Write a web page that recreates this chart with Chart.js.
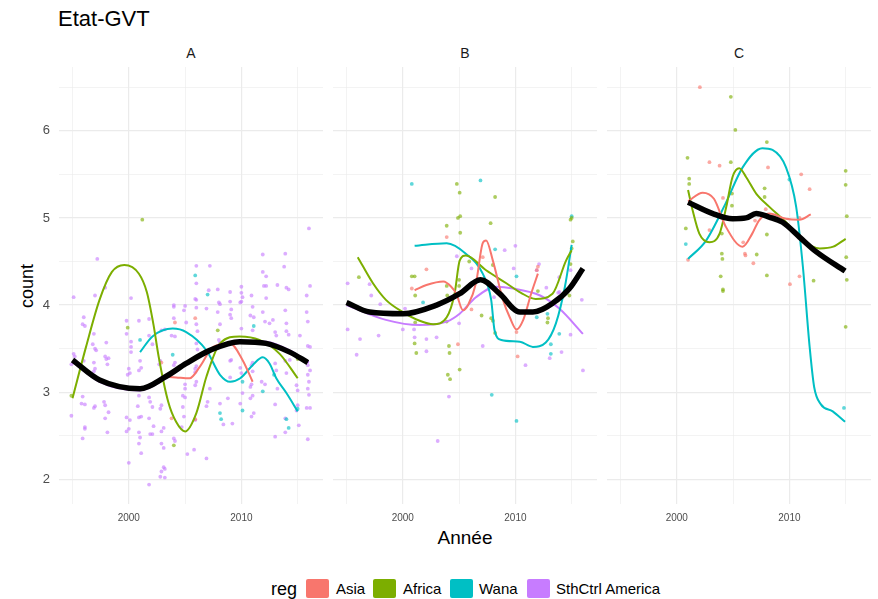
<!DOCTYPE html>
<html>
<head>
<meta charset="utf-8">
<script src="https://cdn.jsdelivr.net/npm/chart.js@4.4.1/dist/chart.umd.min.js"></script>
<style>
  body { margin: 0; width: 878px; height: 599px; background: #fff; overflow: hidden; position: relative;
         font-family: "Liberation Sans", Arial, sans-serif; }
  .t { position: absolute; white-space: nowrap; line-height: 1; }
  canvas { position: absolute; }
  .key { position: absolute; width: 23px; height: 19px; top: 579px; border-radius: 2px; }
</style>
</head>
<body>
<div class="t" style="left:58px;top:7.5px;font-size:22px;color:#000">Etat-GVT</div>
<div class="t" style="left:191px;top:46px;font-size:14px;color:#1a1a1a;transform:translateX(-50%)">A</div>
<div class="t" style="left:465px;top:46px;font-size:14px;color:#1a1a1a;transform:translateX(-50%)">B</div>
<div class="t" style="left:739px;top:46px;font-size:14px;color:#1a1a1a;transform:translateX(-50%)">C</div>
<div class="t" style="left:27px;top:285.5px;font-size:18px;color:#000;transform:translate(-50%,-50%) rotate(-90deg)">count</div>
<div class="t" style="left:465px;top:528px;font-size:19px;color:#000;transform:translateX(-50%)">Année</div>

<canvas id="cA" width="333" height="487" style="left:0;top:47px"></canvas>
<canvas id="cB" width="284" height="487" style="left:323px;top:47px"></canvas>
<canvas id="cC" width="284" height="487" style="left:597px;top:47px"></canvas>

<div id="legend"></div>

<script>
// facets and groups
const panels = ['A', 'B', 'C'];
const regions = ['Asia', 'Africa', 'Wana', 'SthCtrl America'];
const regionColors = ['#F8766D', '#7CAE00', '#00BFC4', '#C77CFF'];
const xLabels = [2000, 2010];
const xGrid = [1995, 2000, 2005, 2010, 2015];
const yLabels = [2, 3, 4, 5, 6];
const yGrid = [2, 2.5, 3, 3.5, 4, 4.5, 5, 5.5, 6, 6.5];

// ---- panel A : points [year, count] ----
const A_asia_pts = [[2004.1,3.80],[2005.9,3.85],[2002.9,3.34],[2003.8,2.70],[2005.9,2.69]];
const A_africa_pts = [[1999.9,3.74],[2001.2,4.98],[2007.9,3.71],[2004.0,2.39],[1994.9,2.96],[2015.0,3.38]];
const A_wana_pts = [[2005.9,4.34],[2007.0,4.12],[2001.0,3.60],[2003.9,3.43],[2011.1,3.76],[2008.1,2.76],[2008.2,2.69],
  [2010.1,3.12],[2010.1,2.79],[2011.9,3.01],[2012.9,3.20],[2014.0,2.69],[2014.2,2.59],[2015.0,2.81]];
const A_sth_pts = [
  [1997.2,4.53],[1997.9,4.20],[1995.1,4.09],[1997.0,4.11],[2000.2,4.08],[1996.0,3.86],[1995.9,3.78],[1996.1,3.76],
  [1996.9,3.67],[1996.8,3.55],[1997.0,3.50],[1997.1,3.48],[1998.0,3.57],[1999.8,3.82],[2000.9,3.82],[1999.8,3.67],
  [2000.2,3.58],[2000.2,3.52],[2000.2,3.46],[2001.8,3.84],[2001.8,3.65],[2002.1,3.55],[2002.9,3.71],[2003.2,3.72],
  [2004.0,4.00],[2004.0,3.98],[2005.0,3.99],[2004.9,3.94],[2004.0,3.85],[2005.1,3.80],[2003.8,3.65],[2004.1,3.64],
  [1995.1,3.44],[1995.2,3.41],[1997.9,3.41],[1998.2,3.39],
  [2016.0,4.88],[2011.9,4.58],[2013.9,4.59],[2006.0,4.45],[2007.2,4.45],[2013.8,4.44],[2011.9,4.38],[2012.2,4.33],
  [2006.0,4.25],[2010.0,4.21],[2012.0,4.22],[2012.2,4.22],[2013.2,4.23],[2014.0,4.20],[2014.2,4.18],[2016.1,4.22],
  [2007.9,4.18],[2009.0,4.15],[2010.9,4.11],[2010.1,4.09],[2010.0,4.04],[2009.9,4.03],[2012.2,4.08],[2015.8,4.11],
  [2005.9,4.07],[2006.0,4.06],[2008.0,4.03],[2008.1,4.01],[2009.0,4.04],[2006.0,3.97],[2006.9,3.96],[2009.1,3.95],
  [2011.0,3.98],[2013.9,3.94],[2007.9,3.92],[2009.0,3.89],[2009.1,3.85],[2010.8,3.88],[2011.1,3.86],[2011.9,3.92],
  [2015.8,3.92],[2012.1,3.81],[2012.5,3.79],[2012.8,3.83],[2014.0,3.79],[2015.9,3.81],[2006.0,3.78],[2006.1,3.70],
  [2008.1,3.78],[2010.0,3.73],[2011.0,3.71],[2013.0,3.69],[2013.1,3.65],[2014.0,3.70],[2014.2,3.66],[2015.2,3.65],
  [2015.9,3.53],[2016.1,3.52],[2008.0,3.60],[2008.1,3.57],[2006.0,3.56],[2006.1,3.49],[2007.1,4.17],[2010.0,4.14],
  [1994.9,3.32],[1995.1,3.34],[1996.0,3.36],[1996.9,3.34],[1997.0,3.27],[1996.9,3.24],[1998.0,3.38],[1998.1,3.32],
  [2000.0,3.27],[2000.1,3.22],[2000.9,3.25],[2001.1,3.28],[2001.0,3.36],[1999.9,3.20],[1995.9,2.95],[1996.1,2.86],
  [1996.9,2.82],[1997.0,2.84],[1995.8,2.87],[1997.8,2.89],[1997.9,2.85],[1998.2,2.77],[1994.9,2.73],[1996.1,2.60],
  [1996.1,2.58],[1995.9,2.47],[1997.9,2.70],[1998.1,2.54],[1999.8,2.71],[2000.1,2.68],[2000.0,2.58],[1999.8,2.55],
  [2000.9,2.71],[2001.1,2.72],[2000.8,2.84],[2000.9,2.96],[2000.9,2.54],[2001.0,2.48],[2000.9,2.41],[2001.1,2.30],
  [2000.0,2.19],[2001.8,2.94],[2001.9,2.89],[2002.1,2.83],[2001.8,2.70],[2001.9,2.52],[2002.1,2.52],[2002.2,2.61],
  [2002.8,2.81],[2002.9,2.85],[2002.9,2.55],[2003.1,2.59],[2002.9,2.41],[2003.1,2.36],[2003.1,2.14],[2003.2,2.12],
  [2002.9,2.09],[2002.8,2.03],[2003.2,2.02],[2001.8,1.94],[2004.0,2.47],[2004.1,2.44],[2004.8,2.83],[2004.9,2.72],
  [2005.0,2.94],[2005.0,3.04],[2004.7,2.60],[2005.2,2.29],[2004.0,3.31],[2004.1,3.34],[2005.0,3.09],[2004.8,2.96],
  [2002.8,3.36],[2002.7,3.32],
  [2005.9,3.08],[2006.0,3.12],[2006.9,2.84],[2007.0,2.89],[2005.9,2.68],[2005.8,2.34],[2006.9,2.24],[2007.2,3.04],
  [2008.1,2.87],[2008.4,2.63],[2009.0,3.17],[2008.8,2.93],[2009.2,2.64],[2010.1,2.99],[2009.9,2.87],[2010.8,2.93],
  [2011.0,2.96],[2011.1,2.76],[2010.9,2.72],[2011.8,3.12],[2012.1,3.09],[2013.0,2.86],[2013.0,2.49],[2013.2,3.04],
  [2013.9,2.54],[2013.9,2.70],[2014.9,3.08],[2015.0,3.02],[2015.0,2.85],[2014.9,2.79],[2015.1,2.62],[2015.8,2.82],
  [2016.1,2.82],[2015.9,2.46],[2015.9,3.20],[2016.0,3.12],[2015.9,3.04],[2016.0,2.97],[2016.1,3.25],[2015.9,3.31],
  [2005.9,3.23],[2005.9,3.27],[2006.0,3.30],[2009.0,3.36],[2009.1,3.37],[2009.9,3.28],[2010.0,3.22],[2010.9,3.31],
  [2011.0,3.34],[2011.0,3.24],[2013.0,3.33],[2013.1,3.25],[2013.9,3.36],[2014.0,3.22],[2014.3,3.37],[2010.9,3.09],
  [2010.8,3.06]];

// ---- panel A : smoothed curves ----
const A_asia_fit = [[2003.0,3.18],[2004.2,3.17],[2005.4,3.16],[2006.3,3.29],[2007.5,3.52],[2009.0,3.56],[2010.1,3.37],[2011.0,3.12]];
const A_africa_fit = [[1995.0,2.93],[1996.2,3.52],[1997.4,4.06],[1998.5,4.38],[1999.6,4.46],[2000.9,4.36],[2001.6,4.15],
  [2002.2,3.77],[2002.65,3.41],[2003.5,2.89],[2004.2,2.66],[2005.0,2.55],[2006.0,2.76],[2006.9,3.18],[2008.1,3.56],
  [2009.85,3.64],[2011.6,3.60],[2013.4,3.44],[2015.0,3.16]];
const A_wana_fit = [[2001.0,3.46],[2002.1,3.64],[2003.9,3.73],[2005.1,3.69],[2006.9,3.48],[2008.1,3.20],[2009.0,3.12],
  [2009.9,3.16],[2011.0,3.31],[2011.9,3.40],[2012.5,3.33],[2013.1,3.16],[2014.0,2.99],[2015.0,2.78]];
const A_sth_fit = [[1995.0,3.35],[1997.4,3.12],[2001.0,3.02],[2003.3,3.16],[2005.1,3.32],[2007.2,3.49],[2009.9,3.59],
  [2012.2,3.58],[2014.3,3.48],[2016.0,3.34]];
const A_all_fit = [[1995.0,3.37],[1997.4,3.14],[2001.0,3.04],[2003.3,3.18],[2005.1,3.33],[2007.2,3.48],[2009.85,3.58],
  [2012.2,3.56],[2014.3,3.46],[2015.9,3.34]];

// ---- panel B ----
const B_asia_pts = [[2003.9,4.78],[2007.1,4.55],[2002.1,4.41],[2000.8,4.19],[2005.0,4.14],[2011.9,4.40],[2012.0,4.44],
  [2004.9,3.55],[2006.1,3.95],[2010.1,3.69],[2010.2,3.41]];
const B_africa_pts = [[2004.8,5.39],[2005.05,5.29],[2008.2,5.24],[2004.9,5.00],[2005.1,5.02],[2003.9,4.91],[2005.1,4.83],
  [2007.8,4.94],[2015.0,5.00],[2014.9,4.98],[2015.1,4.73],[2015.0,4.65],[2005.9,4.50],[2008.0,4.46],[1996.1,4.32],
  [2000.8,4.33],[2001.05,4.33],[2003.9,4.22],[2005.0,4.29],[2005.0,4.22],[2012.0,4.16],[2014.9,4.47],[2001.1,4.11],
  [2001.05,3.56],[2001.2,3.45],[2001.1,3.80],[2003.9,3.81],[2003.95,4.11],[2004.1,3.53],[2004.15,3.45],[2004.0,3.20],
  [2004.2,3.15],[2005.05,3.26],[2007.0,3.88],[2007.85,3.85],[2008.0,3.82],[2008.2,3.68],[2012.85,3.80],[2012.9,3.85],
  [2014.8,4.11]];
const B_wana_pts = [[2000.8,5.39],[2006.9,5.43],[2008.2,4.64],[2015.0,5.02],[2010.1,4.33],[2001.8,4.03],[2007.9,2.97],
  [2010.1,2.67],[2011.9,3.86],[2012.85,3.90],[2013.15,3.55],[2013.15,3.44],[2013.9,3.67]];
const B_sth_pts = [[2009.05,4.63],[2010.0,4.68],[2004.8,4.56],[2006.1,4.42],[2009.85,4.42],[2012.1,4.47],[2011.9,4.40],
  [2013.9,4.32],[2013.8,4.14],[1995.1,4.25],[1997.05,4.24],[1997.2,4.11],[2012.75,4.20],[2014.9,4.40],[1998.0,4.01],
  [1995.1,3.72],[1996.2,3.61],[1995.9,3.43],[1997.85,3.65],[2000.2,3.96],[2000.0,3.72],[2001.0,3.72],[2001.05,3.63],
  [2002.1,3.61],[2002.1,3.47],[2003.0,3.63],[2004.1,2.95],[2003.1,2.44],[2005.0,3.79],[2007.1,3.53],[2008.1,4.09],
  [2010.9,3.31],[2013.05,3.39],[2014.1,3.46],[2014.9,3.66],[2015.9,4.06],[2016.0,3.25],[2013.9,4.15]];

const B_asia_fit = [[2001.05,4.17],[2002.1,4.23],[2003.6,4.27],[2004.3,4.21],[2004.75,4.13],[2005.35,3.94],[2005.8,4.00],
  [2006.5,4.25],[2007.1,4.71],[2007.4,4.74],[2008.0,4.51],[2008.9,4.06],[2009.5,3.86],[2010.1,3.72],[2010.7,3.83],
  [2011.4,4.13],[2012.0,4.36]];
const B_africa_fit = [[1996.0,4.55],[1997.35,4.25],[1998.5,4.06],[2000.0,3.92],[2001.5,3.82],[2002.7,3.78],[2003.9,3.86],
  [2004.6,4.13],[2005.05,4.51],[2005.6,4.57],[2007.4,4.40],[2009.2,4.25],[2010.5,4.14],[2011.8,4.07],[2013.3,4.13],
  [2014.5,4.51],[2015.0,4.63]];
const B_wana_fit = [[2001.05,4.68],[2003.9,4.71],[2005.6,4.59],[2007.1,4.36],[2007.85,4.06],[2008.15,3.71],[2008.75,3.60],
  [2010.4,3.58],[2011.55,3.52],[2012.7,3.57],[2013.6,3.79],[2014.4,4.21],[2015.0,4.69]];
const B_sth_fit = [[1995.0,4.00],[1998.5,3.83],[2001.5,3.77],[2003.9,3.81],[2005.05,3.90],[2006.5,4.09],[2008.3,4.21],
  [2009.8,4.19],[2012.2,4.11],[2013.9,3.96],[2016.0,3.67]];
const B_all_fit = [[1995.0,4.03],[1997.05,3.92],[2000.0,3.90],[2003.0,4.00],[2005.05,4.13],[2006.9,4.29],[2008.6,4.13],
  [2010.4,3.92],[2011.55,3.92],[2013.3,4.02],[2014.8,4.19],[2016.0,4.42]];

// ---- panel C ----
const C_asia_pts = [[2002.05,6.50],[2002.9,5.64],[2003.8,5.60],[2008.1,5.58],[2011.05,5.50],[2011.8,5.33],[2004.1,5.23],
  [2006.95,4.97],[2007.9,5.10],[2010.9,5.00],[2002.9,4.86],[2001.0,4.52],[2005.9,4.72],[2006.05,4.59],[2006.1,4.57],
  [2006.8,4.48],[2010.05,4.24],[2010.9,4.33]];
const C_africa_pts = [[2004.8,6.39],[2005.2,6.01],[2008.0,5.87],[2000.95,5.69],[2004.8,5.64],[2001.1,5.45],[2001.1,5.39],
  [2015.0,5.54],[2015.0,5.38],[2007.8,5.34],[2004.9,5.28],[2004.9,5.14],[2007.8,5.24],[2015.1,5.02],[2000.8,4.88],
  [2004.0,4.82],[2008.0,4.81],[2004.0,4.59],[2004.05,4.53],[2007.1,4.58],[2003.9,4.33],[2004.1,4.18],[2004.1,4.16],
  [2008.0,4.34],[2012.15,4.28],[2015.05,4.55],[2015.1,4.29],[2015.0,3.75]];
const C_wana_pts = [[2010.0,5.44],[2000.8,4.70],[2014.85,2.82]];
const C_sth_pts = [];

const C_asia_fit = [[2001.0,5.19],[2002.3,5.29],[2003.3,5.22],[2004.35,4.90],[2005.85,4.67],[2006.7,4.82],[2007.3,4.97],
  [2008.2,5.05],[2009.7,4.99],[2010.9,4.98],[2011.9,5.04]];
const C_africa_fit = [[2001.0,5.32],[2001.4,5.09],[2002.0,4.82],[2002.9,4.72],[2003.8,4.82],[2004.4,5.13],[2004.95,5.47],
  [2005.55,5.57],[2006.15,5.47],[2007.05,5.28],[2008.2,5.13],[2009.7,4.95],[2011.2,4.74],[2012.7,4.65],[2013.9,4.67],
  [2015.0,4.76]];
const C_wana_fit = [[2001.0,4.53],[2002.6,4.74],[2004.35,5.17],[2005.85,5.58],[2007.6,5.80],[2008.5,5.78],[2009.7,5.58],
  [2010.6,5.13],[2011.2,4.44],[2011.8,3.52],[2012.2,3.06],[2012.8,2.86],[2013.85,2.78],[2014.95,2.66]];
const C_sth_fit = [];
const C_all_fit = [[2001.0,5.18],[2003.2,5.05],[2004.95,4.99],[2006.15,5.00],[2007.05,5.05],[2008.2,5.01],[2009.4,4.95],
  [2010.9,4.78],[2012.4,4.61],[2014.95,4.39]];

const FONT = '"Liberation Sans", Arial, sans-serif';
const toXY = arr => arr.map(([x, y]) => ({ x, y }));

function pointSet(arr, col) {
  return { data: toXY(arr), showLine: false, pointRadius: 1.9, pointBorderWidth: 0,
           pointBackgroundColor: col + 'a0', order: 3 };
}
function fitSet(arr, col, w, ord) {
  return { data: toXY(arr), showLine: true, pointRadius: 0, borderColor: col, borderWidth: w,
           cubicInterpolationMode: 'monotone', fill: false, order: ord };
}

function makePanel(id, showY, pts, fits, all) {
  const datasets = [];
  pts.forEach((p, i) => datasets.push(pointSet(p, regionColors[i])));
  fits.forEach((f, i) => datasets.push(fitSet(f, regionColors[i], 2, 1)));
  datasets.push(fitSet(all, '#000000', 5.5, 0));

  new Chart(document.getElementById(id), {
    type: 'scatter',
    data: { datasets },
    options: {
      responsive: false,
      animation: false,
      layout: { padding: { left: showY ? 0 : 10, right: 10, top: 20, bottom: 0 } },
      plugins: { legend: { display: false }, tooltip: { enabled: false } },
      scales: {
        x: {
          type: 'linear', bounds: 'data', min: 1993.8, max: 2017.25,
          afterBuildTicks: s => { s.ticks = xGrid.map(v => ({ value: v })); },
          afterFit: s => { s.height = 30; },
          border: { display: false },
          grid: { color: '#ebebeb', drawTicks: false,
                  lineWidth: c => (c.tick && xLabels.includes(c.tick.value)) ? 1.2 : 0.6 },
          ticks: { autoSkip: false, maxRotation: 0, minRotation: 0,
                   padding: 8, color: '#4d4d4d', font: { size: 10, family: FONT },
                   callback: v => xLabels.includes(v) ? String(v) : '' }
        },
        y: {
          type: 'linear', bounds: 'data', min: 1.717, max: 6.732,
          afterBuildTicks: s => { s.ticks = yGrid.map(v => ({ value: v })); },
          afterFit: s => { s.width = showY ? 59 : 0; },
          border: { display: false },
          grid: { color: '#ebebeb', drawTicks: false,
                  lineWidth: c => (c.tick && yLabels.includes(c.tick.value)) ? 1.2 : 0.6 },
          ticks: { display: showY, autoSkip: false,
                   padding: 9, color: '#4d4d4d', font: { size: 13, family: FONT },
                   callback: v => yLabels.includes(v) ? String(v) : '' }
        }
      }
    }
  });
}

makePanel('cA', true, [A_asia_pts, A_africa_pts, A_wana_pts, A_sth_pts],
          [A_asia_fit, A_africa_fit, A_wana_fit, A_sth_fit], A_all_fit);
makePanel('cB', false, [B_asia_pts, B_africa_pts, B_wana_pts, B_sth_pts],
          [B_asia_fit, B_africa_fit, B_wana_fit, B_sth_fit], B_all_fit);
makePanel('cC', false, [C_asia_pts, C_africa_pts, C_wana_pts, C_sth_pts],
          [C_asia_fit, C_africa_fit, C_wana_fit, C_sth_fit], C_all_fit);

// legend at the bottom
const legendKeyX = [306, 373, 450, 527];
const legendTextX = [336, 403, 479, 556];
const lg = document.getElementById('legend');
let html = '<div class="t" style="left:271px;top:579.5px;font-size:18px;color:#000">reg</div>';
regions.forEach((r, i) => {
  html += `<div class="key" style="left:${legendKeyX[i]}px;background:${regionColors[i]}"></div>`;
  html += `<div class="t" style="left:${legendTextX[i]}px;top:581px;font-size:15px;color:#000">${r}</div>`;
});
lg.innerHTML = html;
</script>
</body>
</html>
